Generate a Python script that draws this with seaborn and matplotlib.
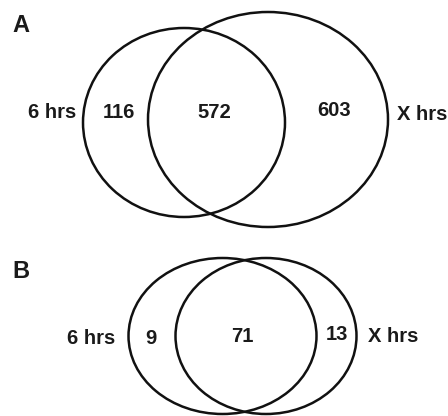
import matplotlib
matplotlib.use("Agg")
import matplotlib.pyplot as plt
from matplotlib.patches import Ellipse
import seaborn as sns

# Venn counts: only in 6 hrs, shared, only in X hrs
set_labels = ["6 hrs", "X hrs"]
panel_names = ["A", "B"]
counts_a = [116, 572, 603]
counts_b = [9, 71, 13]

sns.set_theme(style="white")
plt.rcParams["font.family"] = ["Liberation Sans", "DejaVu Sans"]

fig = plt.figure(figsize=(4.48, 4.16), dpi=100)
ax = fig.add_axes([0, 0, 1, 1])
ax.set_xlim(0, 448)
ax.set_ylim(416, 0)
ax.axis("off")

lw = 1.8
txt = dict(fontsize=14.5, fontweight="bold", ha="center", va="center", color="#1a1a1a")

# Panel A layout: (center x, center y, width, height) for each set
ellipses_a = [(184, 122.5, 202, 189), (268, 119.5, 240, 215)]
# Panel B layout
ellipses_b = [(222.5, 336, 188, 156), (266, 336, 181, 156)]

layouts = [
    dict(name=panel_names[0], name_xy=(21, 26), ellipses=ellipses_a, counts=counts_a,
         count_x=[119, 214, 334], count_y=[112, 112, 110],
         label_xy=[(52, 112), (422, 115)]),
    dict(name=panel_names[1], name_xy=(21, 272), ellipses=ellipses_b, counts=counts_b,
         count_x=[151, 242, 337], count_y=[339, 337, 334],
         label_xy=[(91, 338), (393, 336)]),
]

for p in layouts:
    ax.text(*p["name_xy"], p["name"], fontsize=17, fontweight="bold",
            ha="center", va="center", color="#1a1a1a")
    for cx, cy, w, h in p["ellipses"]:
        ax.add_patch(Ellipse((cx, cy), w, h, fill=False, lw=lw, ec="#111111"))
    for x, y, v in zip(p["count_x"], p["count_y"], p["counts"]):
        ax.text(x, y, str(v), **txt)
    for (x, y), lab in zip(p["label_xy"], set_labels):
        ax.text(x, y, lab, **txt)

fig.savefig("out.png", dpi=100, facecolor="white")
